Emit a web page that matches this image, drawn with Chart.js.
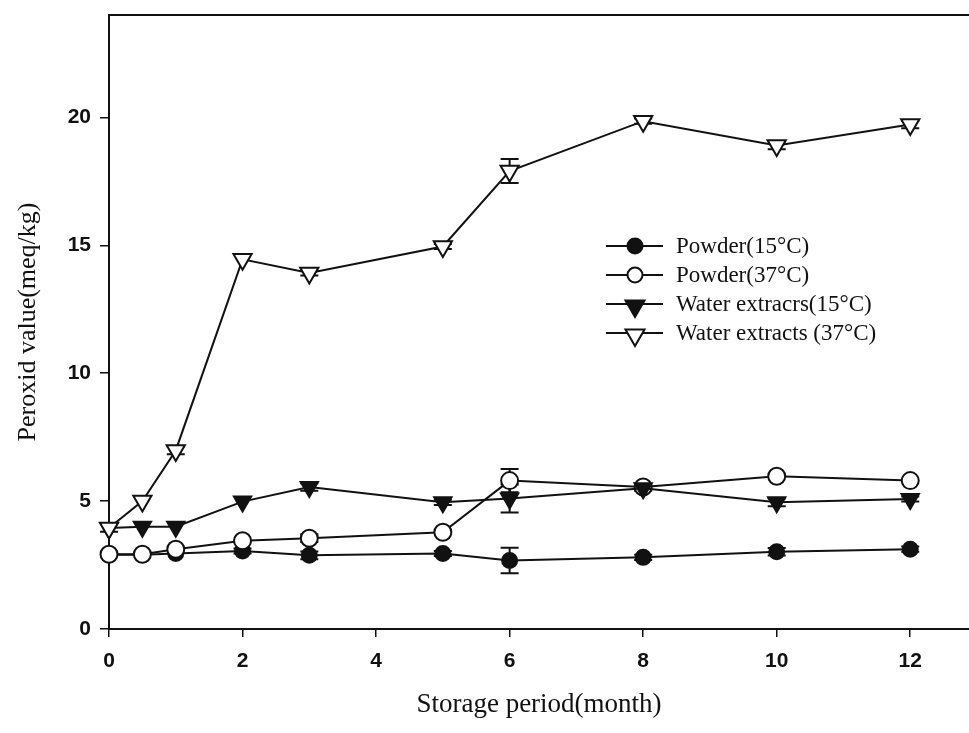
<!DOCTYPE html>
<html>
<head>
<meta charset="utf-8">
<script src="https://cdn.jsdelivr.net/npm/chart.js@4.4.1/dist/chart.umd.min.js"></script>
<style>
html,body{margin:0;padding:0;background:#fff;}
#wrap{width:969px;height:733px;position:relative;}
</style>
</head>
<body>
<div id="wrap"><canvas id="c" width="969" height="733"></canvas></div>
<script>
// ---- data ----
const months   = [0, 0.5, 1, 2, 3, 5, 6, 8, 10, 12];
const powder15 = [2.9, 2.9, 2.95, 3.05, 2.88, 2.95, 2.68, 2.8, 3.02, 3.12];
const powder37 = [2.92, 2.92, 3.12, 3.45, 3.55, 3.78, 5.8, 5.55, 5.97, 5.8];
const water15  = [3.95, 4.0, 4.0, 4.98, 5.55, 4.95, 5.1, 5.5, 4.95, 5.08];
const water37  = [3.95, 5.0, 6.98, 14.45, 13.92, 14.95, 17.9, 19.85, 18.9, 19.72];
const powder15Err = [0, 0, 0, 0.1, 0.15, 0.1, 0.5, 0.1, 0.15, 0.1];
const powder37Err = [0, 0, 0, 0, 0.15, 0, 0.45, 0.1, 0, 0];
const water15Err  = [0, 0, 0, 0, 0.15, 0.1, 0.55, 0.1, 0.15, 0.1];
const water37Err  = [0.15, 0, 0.15, 0, 0.1, 0.1, 0.47, 0.1, 0.15, 0.15];
const seriesLabels = ['Powder(15°C)', 'Powder(37°C)', 'Water extracrs(15°C)', 'Water extracts (37°C)'];
const xTickValues = [0, 2, 4, 6, 8, 10, 12];
const yTickValues = [0, 5, 10, 15, 20];
const xTitle = 'Storage period(month)';
const yTitle = 'Peroxid value(meq/kg)';

const toPts = arr => months.map((m, i) => ({x: m, y: arr[i]}));

function ds(label, arr, err, style, fill, radius, legendRadius, order) {
  return {
    label: label,
    data: toPts(arr),
    errors: err,
    order: order,
    legendRadius: legendRadius,
    borderColor: '#111',
    borderWidth: 2,
    pointStyle: style,
    pointRotation: style === 'triangle' ? 180 : 0,
    pointRadius: radius,
    pointHoverRadius: radius,
    pointBackgroundColor: fill,
    pointBorderColor: '#111',
    pointBorderWidth: 2,
    fill: false,
    clip: false,
    tension: 0
  };
}

const errorBars = {
  id: 'errorBars',
  beforeDatasetsDraw(chart) {
    const ctx = chart.ctx, xs = chart.scales.x, ys = chart.scales.y;
    ctx.save();
    ctx.strokeStyle = '#111';
    ctx.lineWidth = 2;
    chart.data.datasets.forEach(d => {
      d.data.forEach((p, i) => {
        const e = d.errors[i];
        if (!e) return;
        const px = xs.getPixelForValue(p.x);
        const y1 = ys.getPixelForValue(p.y + e), y2 = ys.getPixelForValue(p.y - e);
        ctx.beginPath();
        ctx.moveTo(px, y1); ctx.lineTo(px, y2);
        ctx.moveTo(px - 9, y1); ctx.lineTo(px + 9, y1);
        ctx.moveTo(px - 9, y2); ctx.lineTo(px + 9, y2);
        ctx.stroke();
      });
    });
    ctx.restore();
  }
};

const frameAndLegend = {
  id: 'frameAndLegend',
  afterDraw(chart) {
    const ctx = chart.ctx, a = chart.chartArea;
    ctx.save();
    ctx.strokeStyle = '#111';
    ctx.lineWidth = 2;
    ctx.beginPath();
    ctx.moveTo(a.left, a.top); ctx.lineTo(a.right, a.top);
    ctx.stroke();
    // legend
    const x0 = 606, x1 = 663, xm = 635, tx = 676;
    const rows = [246, 275, 304, 333];
    ctx.font = '23px "Liberation Serif", "Times New Roman", serif';
    ctx.textBaseline = 'middle';
    chart.data.datasets.forEach((d, i) => {
      const y = rows[i];
      ctx.strokeStyle = '#111';
      ctx.lineWidth = 2;
      ctx.beginPath(); ctx.moveTo(x0, y); ctx.lineTo(x1, y); ctx.stroke();
      ctx.fillStyle = d.pointBackgroundColor;
      ctx.strokeStyle = '#111';
      ctx.lineWidth = 2;
      Chart.helpers.drawPoint(ctx, {
        pointStyle: d.pointStyle, rotation: d.pointRotation,
        radius: d.legendRadius, borderWidth: 2
      }, xm, d.pointStyle === 'triangle' ? y + 2 : y);
      ctx.fillStyle = '#111';
      ctx.fillText(d.label, tx, y + 1);
    });
    ctx.restore();
  }
};

new Chart(document.getElementById('c'), {
  type: 'line',
  data: {
    datasets: [
      ds(seriesLabels[0], powder15, powder15Err, 'circle', '#111', 7.5, 7.5, 4),
      ds(seriesLabels[1], powder37, powder37Err, 'circle', '#fff', 8.5, 7.5, 3),
      ds(seriesLabels[2], water15, water15Err, 'triangle', '#111', 10, 11, 2),
      ds(seriesLabels[3], water37, water37Err, 'triangle', '#fff', 10.5, 11, 1)
    ]
  },
  options: {
    responsive: false,
    animation: false,
    events: [],
    layout: {autoPadding: false, padding: {top: 15, right: 0, left: 0, bottom: 0}},
    plugins: {legend: {display: false}, tooltip: {enabled: false}},
    scales: {
      x: {
        type: 'linear',
        min: 0,
        max: 12.88,
        afterFit(s) { s.height = 104; s.paddingLeft = 0; s.paddingRight = 0; },
        afterBuildTicks(s) { s.ticks = xTickValues.map(v => ({value: v})); },
        border: {display: true, color: '#111', width: 2},
        grid: {drawOnChartArea: false, drawTicks: true, tickLength: 8, color: '#111', lineWidth: 1.5},
        ticks: {
          color: '#111', padding: 12, maxRotation: 0,
          font: {family: '"Liberation Sans", Arial, sans-serif', size: 21, weight: 'bold'}
        },
        title: {
          display: true, text: xTitle, color: '#111',
          font: {family: '"Liberation Serif", "Times New Roman", serif', size: 27},
          padding: {top: 12, bottom: 12}
        }
      },
      y: {
        type: 'linear',
        min: 0,
        max: 24,
        afterFit(s) { s.width = 109; s.paddingTop = 0; s.paddingBottom = 0; },
        afterBuildTicks(s) { s.ticks = yTickValues.map(v => ({value: v})); },
        border: {display: true, color: '#111', width: 2},
        grid: {drawOnChartArea: false, drawTicks: true, tickLength: 9, color: '#111', lineWidth: 1.5},
        ticks: {
          color: '#111', padding: 9,
          font: {family: '"Liberation Sans", Arial, sans-serif', size: 21, weight: 'bold'}
        },
        title: {
          display: true, text: yTitle, color: '#111',
          font: {family: '"Liberation Serif", "Times New Roman", serif', size: 26},
          padding: {top: 13, bottom: 4}
        }
      }
    }
  },
  plugins: [errorBars, frameAndLegend]
});
</script>
</body>
</html>
